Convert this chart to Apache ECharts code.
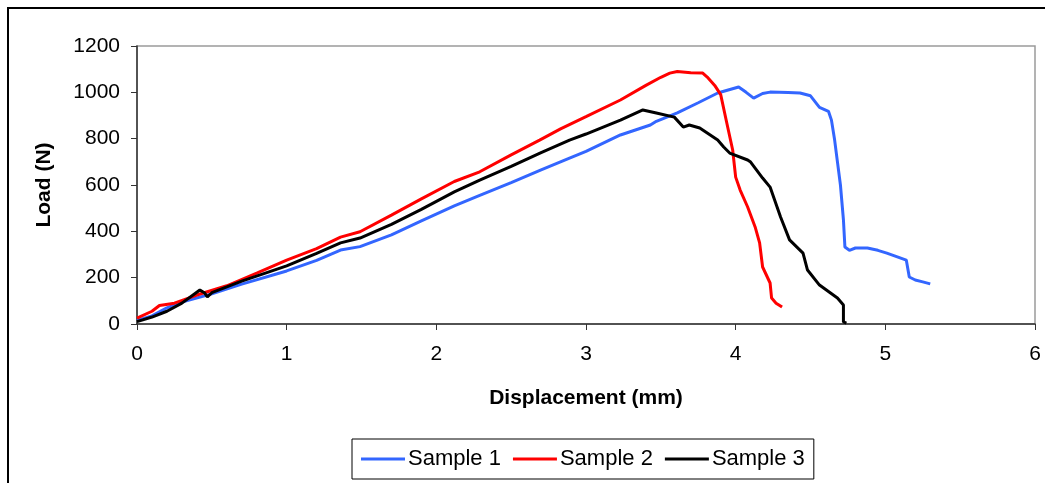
<!DOCTYPE html>
<html lang="en">
<head>
    <meta charset="UTF-8">
    <title>Load vs displacement</title>
    <script src="https://cdn.jsdelivr.net/npm/echarts@6/dist/echarts.min.js"></script>
    <style>
        html, body { margin: 0; padding: 0; background: #fff; }
        #chart { width: 1045px; height: 483px; }
    </style>
</head>
<body>
<div id="chart"></div>
<script type="text/javascript">
    // legend names
    var seriesNames = ['Sample 1', 'Sample 2', 'Sample 3'];

    // [displacement (mm), load (N)]
    var sample1 = [[0,15],[0.1,35],[0.2,70],[0.3,95],[0.5,130],[0.7,172],[1.0,229],[1.2,275],[1.36,319],
        [1.49,334],[1.7,385],[1.9,445],[2.12,510],[2.29,555],[2.5,610],[2.7,665],[2.89,716],[3.0,745],
        [3.23,816],[3.43,859],[3.47,875],[3.61,911],[3.75,955],[3.88,997],[4.02,1023],[4.07,1000],
        [4.12,975],[4.18,995],[4.23,1001],[4.35,999],[4.43,997],[4.5,985],[4.56,935],[4.62,918],
        [4.64,880],[4.66,800],[4.68,700],[4.7,600],[4.72,450],[4.73,332],[4.76,318],[4.8,328],
        [4.88,328],[4.95,318],[5.01,306],[5.08,290],[5.14,276],[5.16,203],[5.2,190],[5.25,182],[5.3,173]];

    var sample2 = [[0,25],[0.1,55],[0.15,80],[0.25,90],[0.4,125],[0.6,165],[0.8,220],[1.0,276],[1.2,325],
        [1.36,375],[1.49,398],[1.7,470],[1.9,540],[2.12,615],[2.29,657],[2.5,730],[2.69,794],[2.83,842],
        [3.0,895],[3.23,967],[3.4,1030],[3.5,1065],[3.56,1083],[3.61,1090],[3.7,1085],[3.78,1083],
        [3.81,1066],[3.86,1030],[3.9,990],[3.94,870],[3.98,751],[4.0,634],[4.03,578],[4.08,505],
        [4.13,419],[4.16,350],[4.18,246],[4.23,177],[4.24,112],[4.27,90],[4.31,73]];

    var sample3 = [[0,10],[0.1,30],[0.2,55],[0.3,90],[0.42,147],[0.45,135],[0.47,117],[0.5,135],[0.7,185],
        [1.0,251],[1.2,305],[1.36,350],[1.49,371],[1.7,430],[1.9,495],[2.12,570],[2.29,621],[2.5,680],
        [2.7,740],[2.89,794],[3.0,820],[3.23,880],[3.38,924],[3.47,911],[3.59,893],[3.65,850],[3.69,859],
        [3.76,846],[3.88,794],[3.92,764],[3.96,738],[4.08,708],[4.1,699],[4.18,630],[4.23,591],[4.3,462],
        [4.36,363],[4.45,306],[4.48,233],[4.56,168],[4.68,112],[4.72,82],[4.72,9],[4.74,4]];

    var seriesData = [sample1, sample2, sample3];
    var seriesColors = ['#3366ff', '#ff0000', '#000000'];

    var chart = echarts.init(document.getElementById('chart'));

    var series = [];
    for (var i = 0; i < seriesNames.length; i++) {
        series.push({
            name: seriesNames[i],
            type: 'line',
            data: seriesData[i],
            showSymbol: false,
            symbol: 'none',
            animation: false,
            lineStyle: { color: seriesColors[i], width: 3 },
            itemStyle: { color: seriesColors[i] }
        });
    }

    var option = {
        animation: false,
        textStyle: { fontFamily: 'Liberation Sans, Arial, sans-serif' },
        graphic: [{
            type: 'rect',
            shape: { x: 8, y: 8, width: 1200, height: 700 },
            style: { fill: 'none', stroke: '#000', lineWidth: 2 },
            silent: true
        }],
        grid: {
            left: 137, right: 10, top: 46, bottom: 159,
            show: true,
            borderColor: '#9a9a9a',
            borderWidth: 1.5
        },
        legend: {
            data: seriesNames,
            left: 352,
            top: 439,
            orient: 'horizontal',
            icon: 'rect',
            itemWidth: 44,
            itemHeight: 3,
            itemGap: 12,
            padding: [9, 9],
            borderColor: '#000',
            borderWidth: 1,
            textStyle: { fontSize: 22, color: '#000', padding: [0, 0, 0, -2] }
        },
        xAxis: {
            type: 'value',
            min: 0, max: 6, interval: 1,
            name: 'Displacement (mm)',
            nameLocation: 'middle',
            nameGap: 64,
            nameTextStyle: { fontSize: 21, fontWeight: 'bold', color: '#000' },
            axisLine: { lineStyle: { color: '#333', width: 1.5 } },
            axisTick: { show: true, length: 6, lineStyle: { color: '#333' } },
            axisLabel: { fontSize: 21, color: '#000', margin: 20 },
            splitLine: { show: false }
        },
        yAxis: {
            type: 'value',
            min: 0, max: 1200, interval: 200,
            name: 'Load (N)',
            nameLocation: 'middle',
            nameGap: 82,
            nameTextStyle: { fontSize: 21, fontWeight: 'bold', color: '#000' },
            axisLine: { show: true, lineStyle: { color: '#333', width: 1.5 } },
            axisTick: { show: true, length: 6, lineStyle: { color: '#333' } },
            axisLabel: {
                fontSize: 21, color: '#000', margin: 17,
                formatter: function (v) { return String(v); }
            },
            splitLine: { show: false }
        },
        series: series
    };
    chart.setOption(option);
</script>
</body>
</html>
